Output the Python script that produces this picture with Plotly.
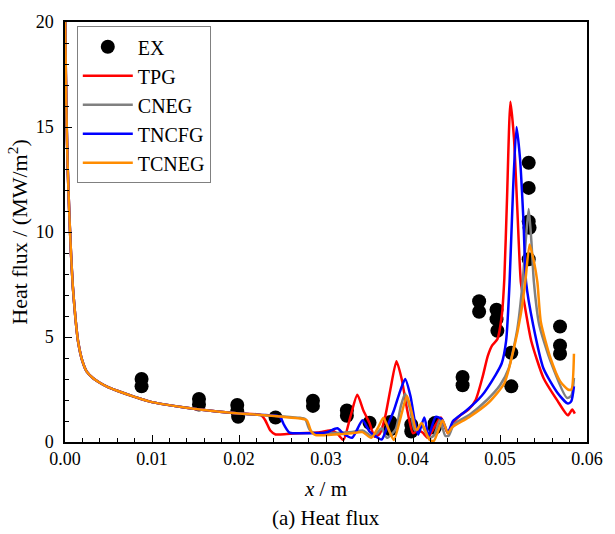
import plotly.graph_objects as go

# ---- data ----
base_x = [0.0, 0.0001, 0.0002, 0.0003, 0.0005, 0.0007, 0.0009, 0.0012, 0.0015, 0.002,
          0.0025, 0.0032, 0.004, 0.005, 0.006, 0.008, 0.010, 0.0125, 0.015, 0.0175,
          0.020, 0.0225]
base_y = [21.0, 17.5, 15.0, 13.2, 10.8, 8.9, 7.4, 5.9, 4.8, 3.85,
          3.35, 3.05, 2.82, 2.6, 2.44, 2.15, 1.9, 1.72, 1.57, 1.45,
          1.36, 1.29]

tpg_x = [0.0230, 0.0236, 0.0242, 0.0255, 0.0270, 0.0290, 0.0300, 0.0306, 0.0313, 0.0320,
         0.0328, 0.0336, 0.0343, 0.0350, 0.0356, 0.0362, 0.0368, 0.0374, 0.0381, 0.0387,
         0.0393, 0.0400, 0.0406, 0.0411, 0.0417, 0.0425, 0.0432, 0.0440, 0.0446, 0.0455,
         0.0464, 0.0472, 0.0480, 0.0486, 0.0491, 0.0497, 0.0502, 0.0505, 0.0508, 0.0512,
         0.0516, 0.0520, 0.0524, 0.0528, 0.0536, 0.0550, 0.0566, 0.0578, 0.0583, 0.0586]
tpg_y = [1.05, 0.55, 0.36, 0.38, 0.42, 0.45, 0.52, 0.56, 0.4, 0.1,
         1.2, 2.25, 1.5, 0.9, 0.25, 0.4, 1.2, 2.5, 3.85, 3.0,
         1.6, 0.42, 0.55, 0.45, 0.2, 0.75, 1.17, 0.42, 0.9, 1.3,
         1.55, 2.0, 3.1, 4.1, 4.6, 4.9, 6.0, 7.8, 11.5, 16.2,
         14.5, 11.0, 7.6, 6.6, 4.8, 3.05, 1.97, 1.27, 1.55, 1.35]

cneg_x = [0.0250, 0.0270, 0.0276, 0.0281, 0.0287, 0.0310, 0.0330, 0.0342, 0.0352, 0.0358,
          0.0364, 0.0370, 0.0380, 0.0386, 0.0391, 0.0397, 0.0402, 0.0410, 0.0418, 0.0424,
          0.0431, 0.0437, 0.0441, 0.0447, 0.0465, 0.0485, 0.0500, 0.0510, 0.0520, 0.0526,
          0.0530, 0.0533, 0.0536, 0.0539, 0.0545, 0.0558, 0.0577, 0.0582, 0.0585]
cneg_y = [1.22, 1.15, 1.1, 0.6, 0.42, 0.43, 0.48, 0.55, 0.3, 0.4,
          0.65, 0.2, 0.6, 1.7, 2.3, 1.5, 0.56, 0.8, 0.2, 0.3,
          1.05, 0.3, 0.3, 0.85, 1.3, 2.0, 2.7, 3.5, 5.4, 7.6,
          9.8, 11.1, 9.6, 7.6, 5.6, 3.85, 2.1, 2.2, 3.05]

tncfg_x = [0.0240, 0.0247, 0.0252, 0.0258, 0.0280, 0.0300, 0.0313, 0.0320, 0.0330, 0.0342,
           0.0350, 0.0356, 0.0364, 0.0371, 0.0378, 0.0385, 0.0391, 0.0397, 0.0402, 0.0406,
           0.0413, 0.0418, 0.0426, 0.0433, 0.0440, 0.0446, 0.0460, 0.0479, 0.0495, 0.0502,
           0.0507, 0.0511, 0.0515, 0.0519, 0.0523, 0.0527, 0.0530, 0.0538, 0.0550, 0.0566,
           0.0578, 0.0582, 0.0585]
tncfg_y = [1.26, 1.2, 0.8, 0.45, 0.42, 0.45, 0.65, 0.4, 0.2, 1.03,
           0.5, 0.3, 0.12, 0.8, 1.5, 2.4, 3.0, 2.2, 1.0, 0.35,
           1.17, 0.3, 1.2, 1.1, 0.45, 1.0, 1.45, 2.2, 3.2, 3.75,
           4.8, 7.6, 12.0, 15.0, 13.5, 10.5, 7.6, 5.6, 3.5, 2.35,
           1.83, 1.95, 2.65]

tcneg_x = [0.0250, 0.0270, 0.0278, 0.0283, 0.0288, 0.0310, 0.0330, 0.0342, 0.0352, 0.0360,
           0.0366, 0.0372, 0.0378, 0.0386, 0.0393, 0.0398, 0.0404, 0.0410, 0.0419, 0.0424,
           0.0434, 0.0440, 0.0445, 0.0464, 0.0487, 0.0505, 0.0516, 0.0524, 0.0529, 0.0534,
           0.0539, 0.0543, 0.0547, 0.0558, 0.0569, 0.0578, 0.0582, 0.0585]
tcneg_y = [1.2, 1.12, 1.03, 0.5, 0.33, 0.36, 0.42, 0.47, 0.2, 0.7,
           1.15, 0.6, 0.1, 1.2, 2.2, 1.5, 0.56, 0.9, 0.1, 0.05,
           1.03, 0.42, 0.7, 1.17, 1.88, 2.8, 4.46, 6.1, 7.6, 9.4,
           8.6, 7.6, 5.7, 4.0, 2.9, 2.5, 2.5, 4.2]

ex_x = [0.0088, 0.0088, 0.0154, 0.0154, 0.0198, 0.0198, 0.0199, 0.0242, 0.0285, 0.0285,
        0.0324, 0.0324, 0.0350, 0.0374, 0.0374, 0.0398, 0.0398, 0.0425, 0.0425, 0.0457,
        0.0457, 0.0476, 0.0476, 0.0496, 0.0496, 0.0497, 0.0513, 0.0513, 0.0533, 0.0533,
        0.0533, 0.0534, 0.0533, 0.0569, 0.0569, 0.0569]
ex_y = [3.0, 2.65, 2.05, 1.78, 1.76, 1.45, 1.2, 1.17, 1.97, 1.72,
        1.5, 1.25, 0.92, 0.95, 0.6, 0.82, 0.5, 0.9, 0.68, 3.1,
        2.7, 6.7, 6.2, 6.3, 5.85, 5.3, 4.25, 2.65, 13.3, 12.1,
        10.5, 10.2, 8.7, 5.5, 4.6, 4.2]

series = [
    ("TPG", tpg_x, tpg_y, "#FF0000"),
    ("CNEG", cneg_x, cneg_y, "#808080"),
    ("TNCFG", tncfg_x, tncfg_y, "#0000FF"),
    ("TCNEG", tcneg_x, tcneg_y, "#FF8C00"),
]

FONT = "Liberation Serif, Times New Roman, serif"

fig = go.Figure()
fig.add_trace(go.Scatter(x=ex_x, y=ex_y, mode="markers", name="EX",
                         marker=dict(color="black", size=14, line=dict(width=0))))
for name, sx, sy, col in series:
    fig.add_trace(go.Scatter(x=base_x + sx, y=base_y + sy, mode="lines", name=name,
                             line=dict(color=col, width=2.5, shape="spline", smoothing=0.6)))

axis_common = dict(showline=True, linecolor="black", linewidth=1.5, mirror=True,
                   ticks="inside", tickcolor="black", tickwidth=1.2, ticklen=7,
                   showgrid=False, zeroline=False,
                   tickfont=dict(family=FONT, size=18, color="black"))

fig.update_xaxes(range=[0, 0.06], dtick=0.01, tickformat=".2f",
                 minor=dict(dtick=0.002, ticks="inside", ticklen=4, tickcolor="black", tickwidth=1),
                 title=dict(text="<i>x</i> / m", font=dict(family=FONT, size=21, color="black"),
                            standoff=13),
                 **axis_common)
fig.update_yaxes(range=[0, 20], dtick=5,
                 minor=dict(dtick=1, ticks="inside", ticklen=4, tickcolor="black", tickwidth=1),
                 title=dict(text="Heat flux / (MW/m<sup>2</sup>)",
                            font=dict(family=FONT, size=22, color="black"), standoff=2),
                 ticklabelstandoff=6,
                 **axis_common)

fig.add_annotation(text="(a) Heat flux", xref="paper", yref="paper", x=0.5, y=-0.18,
                   xanchor="center", yanchor="middle", showarrow=False,
                   font=dict(family=FONT, size=21, color="black"))

fig.update_layout(
    width=615, height=534,
    margin=dict(l=65, r=18, t=16, b=92),
    paper_bgcolor="white", plot_bgcolor="white",
    font=dict(family=FONT, color="black"),
    legend=dict(x=0.0226, y=0.99, xanchor="left", yanchor="top",
                bgcolor="white", bordercolor="#808080", borderwidth=1,
                font=dict(family=FONT, size=20, color="black"),
                itemwidth=50, tracegroupgap=0),
    showlegend=True,
)

fig.write_html("out.html")
